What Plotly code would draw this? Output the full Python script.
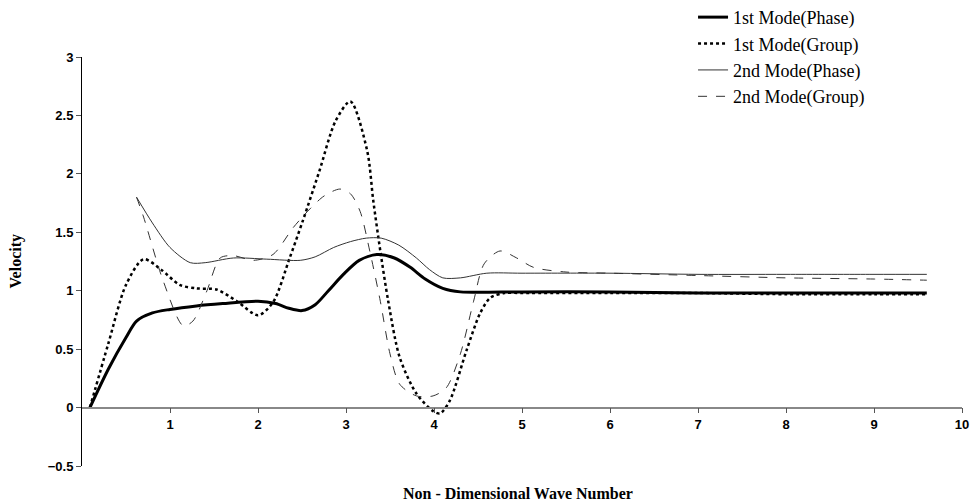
import plotly.graph_objects as go

# 1st Mode (Phase)
x1p = [0.09, 0.3, 0.5, 0.62, 0.8, 1.0, 1.3, 1.6, 2.0, 2.2, 2.35, 2.5, 2.65, 2.8, 2.97, 3.15, 3.35, 3.55, 3.73, 3.9, 4.1, 4.3, 5.0, 6.0, 7.0, 8.0, 9.0, 9.6]
y1p = [0.0, 0.33, 0.6, 0.74, 0.81, 0.84, 0.87, 0.89, 0.91, 0.89, 0.85, 0.83, 0.88, 1.0, 1.14, 1.26, 1.31, 1.28, 1.2, 1.1, 1.02, 0.99, 0.99, 0.99, 0.98, 0.98, 0.98, 0.98]

# 1st Mode (Group)
x1g = [0.09, 0.3, 0.5, 0.7, 0.9, 1.11, 1.3, 1.53, 1.76, 2.0, 2.17, 2.36, 2.51, 2.7, 2.88, 3.05, 3.24, 3.31, 3.39, 3.48, 3.61, 3.8, 3.99, 4.07, 4.18, 4.37, 4.52, 4.64, 4.8, 5.0, 6.0, 7.0, 8.0, 9.0, 9.6]
y1g = [0.0, 0.55, 1.05, 1.27, 1.18, 1.05, 1.02, 1.01, 0.91, 0.79, 0.9, 1.28, 1.6, 2.03, 2.45, 2.62, 2.2, 1.77, 1.34, 0.91, 0.43, 0.12, -0.03, -0.05, 0.06, 0.49, 0.8, 0.94, 0.98, 0.98, 0.98, 0.98, 0.97, 0.97, 0.97]

# 2nd Mode (Phase)
x2p = [0.62, 0.8, 1.0, 1.23, 1.4, 1.72, 2.1, 2.48, 2.65, 2.86, 3.05, 3.23, 3.4, 3.6, 3.8, 3.95, 4.1, 4.3, 4.6, 5.0, 6.0, 7.0, 8.0, 9.0, 9.6]
y2p = [1.8, 1.58, 1.37, 1.24, 1.24, 1.28, 1.27, 1.26, 1.29, 1.37, 1.42, 1.45, 1.45, 1.39, 1.28, 1.18, 1.11, 1.11, 1.15, 1.15, 1.15, 1.14, 1.14, 1.14, 1.14]

# 2nd Mode (Group)
x2g = [0.62, 0.7, 0.92, 1.15, 1.26, 1.42, 1.57, 1.72, 1.95, 2.17, 2.4, 2.59, 2.75, 2.93, 3.05, 3.16, 3.27, 3.39, 3.5, 3.61, 3.8, 3.99, 4.14, 4.3, 4.45, 4.57, 4.75, 4.94, 5.13, 5.5, 6.0, 7.0, 8.0, 9.0, 9.6]
y2g = [1.8, 1.63, 1.09, 0.7, 0.74, 1.0, 1.28, 1.3, 1.26, 1.31, 1.54, 1.7, 1.81, 1.87, 1.83, 1.68, 1.34, 0.91, 0.46, 0.2, 0.1, 0.1, 0.17, 0.46, 0.91, 1.23, 1.34, 1.28, 1.2, 1.16, 1.15, 1.13, 1.11, 1.1, 1.09]

names = ["1st Mode(Phase)", "1st Mode(Group)", "2nd Mode(Phase)", "2nd Mode(Group)"]
xtick_vals = [1, 2, 3, 4, 5, 6, 7, 8, 9, 10]
ytick_vals = [-0.5, 0, 0.5, 1, 1.5, 2, 2.5, 3]

fig = go.Figure()
fig.add_trace(go.Scatter(x=x1p, y=y1p, mode="lines", name=names[0], legendgroup="a",
                         line=dict(color="black", width=3, shape="spline", smoothing=0.8)))
fig.add_trace(go.Scatter(x=x1g, y=y1g, mode="lines", name=names[1], legendgroup="b",
                         line=dict(color="black", width=2.5, dash="dot", shape="spline", smoothing=0.8)))
fig.add_trace(go.Scatter(x=x2p, y=y2p, mode="lines", name=names[2], legendgroup="c",
                         line=dict(color="#333333", width=1, shape="spline", smoothing=0.8)))
fig.add_trace(go.Scatter(x=x2g, y=y2g, mode="lines", name=names[3], legendgroup="d",
                         line=dict(color="#333333", width=1, dash="dash", shape="spline", smoothing=0.8)))

tickfont = dict(family="Liberation Sans, Arial", size=13, color="black", weight="bold")
serif = "Liberation Serif, Times New Roman"

fig.update_layout(
    width=972, height=502,
    margin=dict(l=82, r=10, t=57, b=36, autoexpand=False),
    plot_bgcolor="white", paper_bgcolor="white",
    xaxis=dict(range=[0, 10], tickvals=xtick_vals, ticks="outside", ticklen=5,
               tickcolor="#555555", tickwidth=1, showgrid=False, zeroline=False,
               showline=True, linecolor="#888888", linewidth=1.5,
               anchor="free", position=0.5 / 3.5, tickfont=tickfont),
    yaxis=dict(range=[-0.5, 3], tickvals=ytick_vals, ticks="outside", ticklen=5,
               tickcolor="#555555", tickwidth=1, showgrid=False, zeroline=False,
               showline=True, linecolor="black", linewidth=1, tickfont=tickfont),
    legend=dict(xref="container", yref="paper", x=0.713, y=1.142, xanchor="left", yanchor="top",
                tracegroupgap=0,
                font=dict(family=serif, size=18, color="black"),
                bgcolor="rgba(0,0,0,0)"),
    annotations=[
        dict(text="Non - Dimensional Wave Number", xref="paper", yref="paper", x=0.5, y=0.0,
             yshift=-27, yanchor="middle", xshift=-4, showarrow=False,
             font=dict(family=serif, size=16, color="black", weight="bold")),
        dict(text="Velocity", xref="paper", yref="paper", x=0, y=0.5, xshift=-67,
             xanchor="center", yanchor="middle",
             textangle=-90, showarrow=False, yshift=0,
             font=dict(family=serif, size=16, color="black", weight="bold")),
    ],
)

fig.write_html("out.html", config={"displayModeBar": False},
               post_script="document.body.style.margin='0';document.body.style.overflow='hidden';")
